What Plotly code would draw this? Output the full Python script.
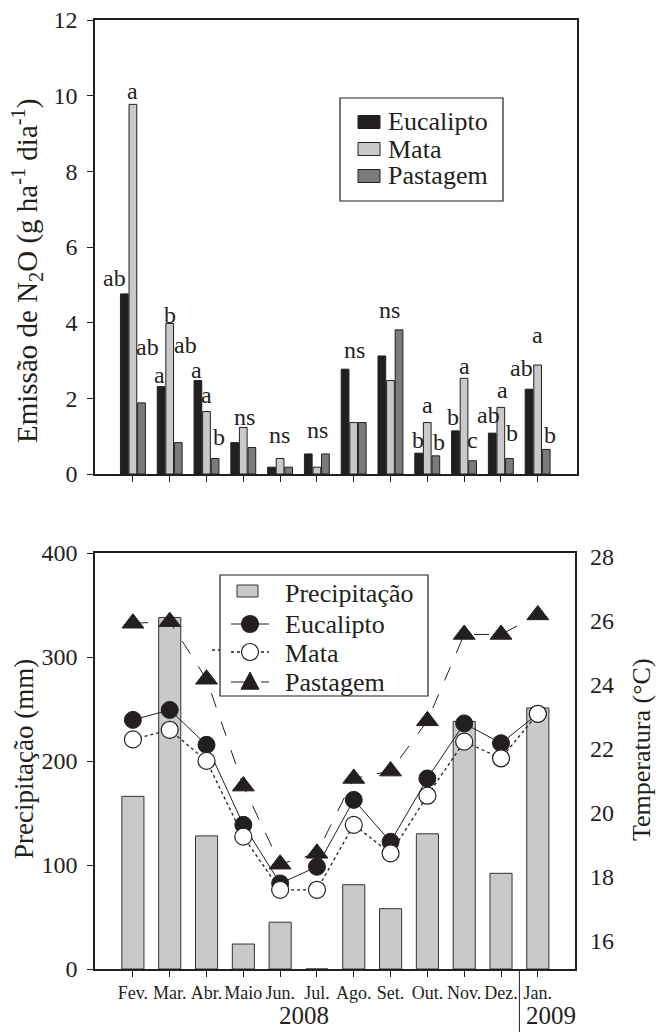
import plotly.graph_objects as go

# ---------------- data ----------------
months = ["Fev.", "Mar.", "Abr.", "Maio", "Jun.", "Jul.", "Ago.", "Set.", "Out.", "Nov.", "Dez.", "Jan."]

n2o_eucalipto = [4.76, 2.31, 2.47, 0.83, 0.18, 0.53, 2.77, 3.12, 0.55, 1.14, 1.08, 2.24]
n2o_mata = [9.77, 3.98, 1.65, 1.23, 0.41, 0.18, 1.36, 2.47, 1.36, 2.53, 1.76, 2.88]
n2o_pastagem = [1.88, 0.83, 0.41, 0.70, 0.18, 0.53, 1.36, 3.81, 0.48, 0.35, 0.41, 0.65]

precipitacao = [166, 338, 128, 24, 45, 0, 81, 58, 130, 238, 92, 251]
temp_eucalipto = [22.91, 23.22, 22.13, 19.63, 17.80, 18.32, 20.41, 19.10, 21.08, 22.80, 22.18, 23.10]
temp_mata = [22.30, 22.60, 21.63, 19.26, 17.60, 17.60, 19.63, 18.74, 20.54, 22.23, 21.71, 23.10]
temp_pastagem = [25.93, 25.98, 24.18, 20.84, 18.40, 18.74, 21.08, 21.31, 22.88, 25.58, 25.58, 26.19]

# significance letters (text) and their label positions (month index, emission units)
sig_letters = ["ab", "a", "ab", "a", "b", "ab", "a", "a", "b", "ns", "ns", "ns", "ns", "ns",
               "b", "a", "b", "b", "a", "c", "ab", "a", "b", "ab", "a", "b"]
sig_pos = [(-0.49, 5.18), (-0.01, 10.13), (0.41, 3.36), (0.71, 2.62), (1.01, 4.20), (1.44, 3.40),
           (1.74, 2.74), (2.01, 2.09), (2.34, 0.98), (3.02, 1.51), (3.99, 1.03), (5.03, 1.16),
           (6.03, 3.28), (6.98, 4.34), (7.74, 0.90), (8.02, 1.82), (8.32, 0.85), (8.70, 1.51),
           (9.00, 2.85), (9.24, 0.90), (9.67, 1.56), (10.05, 2.22), (10.30, 1.08), (10.57, 2.80),
           (11.00, 3.67), (11.33, 1.03)]

idx = list(range(len(months)))

FONT = "Liberation Serif"
INK = "#231f20"
W, H = 664, 1032

def px_x(p):
    return p / W

def px_y(p):
    return 1 - p / H

# styles
C_EUC, C_MATA, C_PAST, C_PREC = "#231f20", "#c9c9c9", "#7b7b7d", "#c8c9ca"

fig = go.Figure()

# ---------------- top: N2O emission bars ----------------
bar_line = dict(color=INK, width=1)
for name, vals, col in [("Eucalipto", n2o_eucalipto, C_EUC), ("Mata", n2o_mata, C_MATA),
                        ("Pastagem", n2o_pastagem, C_PAST)]:
    fig.add_trace(go.Bar(x=idx, y=vals, name=name, marker=dict(color=col, line=bar_line),
                         xaxis="x", yaxis="y", showlegend=False))

# ---------------- bottom: precipitation + temperature ----------------
fig.add_trace(go.Bar(x=idx, y=precipitacao, name="Precipitação", width=0.6, offset=-0.3,
                     marker=dict(color=C_PREC, line=dict(color="#333333", width=1)),
                     xaxis="x2", yaxis="y2", showlegend=False))
fig.add_trace(go.Scatter(x=idx, y=temp_eucalipto, name="Eucalipto", mode="lines+markers",
                         line=dict(color=INK, width=1),
                         marker=dict(symbol="circle", size=17, color=INK, line=dict(color=INK, width=1)),
                         xaxis="x2", yaxis="y3", showlegend=False))
fig.add_trace(go.Scatter(x=idx, y=temp_mata, name="Mata", mode="lines+markers",
                         line=dict(color=INK, width=1.3, dash="dot"),
                         marker=dict(symbol="circle", size=17, color="white", line=dict(color=INK, width=1.2)),
                         xaxis="x2", yaxis="y3", showlegend=False))
fig.add_trace(go.Scatter(x=idx, y=temp_pastagem, name="Pastagem", mode="lines+markers",
                         line=dict(color=INK, width=1, dash="longdash"),
                         marker=dict(symbol="triangle-up", size=19, color=INK, line=dict(color=INK, width=1)),
                         xaxis="x2", yaxis="y3", showlegend=False))

axis_common = dict(showline=True, linecolor=INK, linewidth=1.5, mirror=True, showgrid=False,
                   zeroline=False, tickcolor=INK, automargin=False,
                   tickfont=dict(family=FONT, size=24, color=INK))

annotations = []
for t, (ax, ay) in zip(sig_letters, sig_pos):
    annotations.append(dict(x=ax, y=ay, xref="x", yref="y", text=t, showarrow=False,
                            font=dict(family=FONT, size=24, color=INK), xanchor="center", yanchor="middle"))

def ptext(x, y, text, size=26, angle=0, xanchor="center"):
    return dict(x=px_x(x), y=px_y(y), xref="paper", yref="paper", text=text, textangle=angle,
                showarrow=False, font=dict(family=FONT, size=size, color=INK),
                xanchor=xanchor, yanchor="middle")

# axis titles
annotations.append(ptext(27, 271, "Emissão de N<sub>2</sub>O (g ha<sup>-1</sup> dia<sup>-1</sup>)", 29, -90))
annotations.append(ptext(24, 759, "Precipitação (mm)", 27, -90))
annotations.append(ptext(641, 750, "Temperatura (°C)", 26, -90))
# years
annotations.append(dict(x=4.65, y=px_y(1015), xref="x2", yref="paper", text="2008", showarrow=False,
                        font=dict(family=FONT, size=25, color=INK), xanchor="center", yanchor="middle"))
annotations.append(dict(x=11.36, y=px_y(1015), xref="x2", yref="paper", text="2009", showarrow=False,
                        font=dict(family=FONT, size=25, color=INK), xanchor="center", yanchor="middle"))

shapes = [dict(type="line", xref="x2", yref="paper", x0=10.5, x1=10.5, y0=px_y(969), y1=0,
               line=dict(color=INK, width=1))]

def prect(x0, y0, x1, y1, fill, lw=1, lc=INK):
    return dict(type="rect", xref="paper", yref="paper", x0=px_x(x0), x1=px_x(x1), y0=px_y(y1), y1=px_y(y0),
                fillcolor=fill, line=dict(color=lc, width=lw), layer="above")

def pline(x0, y0, x1, y1, dash="solid", lw=1):
    return dict(type="line", xref="paper", yref="paper", x0=px_x(x0), x1=px_x(x1), y0=px_y(y0), y1=px_y(y1),
                line=dict(color=INK, width=lw, dash=dash), layer="above")

def pcircle(cx, cy, r, fill):
    return dict(type="circle", xref="paper", yref="paper", x0=px_x(cx - r), x1=px_x(cx + r),
                y0=px_y(cy + r), y1=px_y(cy - r), fillcolor=fill, line=dict(color=INK, width=1.2), layer="above")

def ptri(cx, cy, s):
    pts = [(cx, cy - s * 0.55), (cx - s / 2, cy + s * 0.4), (cx + s / 2, cy + s * 0.4)]
    path = "M " + " L ".join(f"{px_x(a):.5f},{px_y(b):.5f}" for a, b in pts) + " Z"
    return dict(type="path", xref="paper", yref="paper", path=path, fillcolor=INK,
                line=dict(color=INK, width=1), layer="above")

# ---- top legend (manual) ----
shapes.append(prect(340, 98, 503, 201, "white", 1.2))
top_leg = [("Eucalipto", C_EUC, 122), ("Mata", C_MATA, 149), ("Pastagem", C_PAST, 176)]
for name, col, yc in top_leg:
    shapes.append(prect(358, yc - 6.5, 380, yc + 6.5, col, 1))
    annotations.append(ptext(386, yc, name, 26, 0, "left"))

# ---- bottom legend (manual) ----
shapes.append(pline(212, 650, 233, 650, "dot", 1.3))
shapes.append(prect(220, 575, 428, 696, "white", 1.2))
shapes.append(prect(237, 585, 258, 597, C_PREC, 1, "#333333"))
annotations.append(ptext(283, 593, "Precipitação", 26, 0, "left"))
shapes.append(pline(231, 624, 269, 624, "solid", 1))
shapes.append(pcircle(250, 624, 8.5, INK))
annotations.append(ptext(283, 624, "Eucalipto", 26, 0, "left"))
shapes.append(pline(231, 652, 269, 652, "dot", 1.3))
shapes.append(pcircle(250, 652, 8.5, "white"))
annotations.append(ptext(283, 653, "Mata", 26, 0, "left"))
shapes.append(pline(231, 682, 269, 682, "longdash", 1))
shapes.append(ptri(250, 682, 18))
annotations.append(ptext(283, 682, "Pastagem", 26, 0, "left"))

fig.update_layout(
    width=W, height=H,
    margin=dict(l=0, r=0, t=0, b=0, autoexpand=False),
    paper_bgcolor="white", plot_bgcolor="white",
    font=dict(family=FONT, color=INK),
    barmode="group", bargap=0.3, bargroupgap=0.1,
    showlegend=False,
    xaxis=dict(domain=[px_x(95), px_x(577)], range=[-1.03, 12.07], tickvals=idx,
               showticklabels=False, ticks="outside", ticklen=6, anchor="y", **axis_common),
    yaxis=dict(domain=[px_y(474), px_y(20)], range=[0, 12], tickvals=[0, 2, 4, 6, 8, 10, 12],
               ticks="outside", ticklen=6, anchor="x", ticklabelstandoff=5, **axis_common),
    xaxis2=dict(domain=[px_x(95), px_x(575)], range=[-1.03, 12.01], tickvals=idx, ticktext=months,
                ticks="outside", ticklen=6, anchor="y2", ticklabelstandoff=1,
                **{**axis_common, "tickfont": dict(family=FONT, size=18, color=INK)}),
    yaxis2=dict(domain=[px_y(969), px_y(553)], range=[0, 400], tickvals=[0, 100, 200, 300, 400],
                ticks="outside", ticklen=6, anchor="x2", ticklabelstandoff=5, **axis_common),
    yaxis3=dict(overlaying="y2", side="right", anchor="x2", range=[15.125, 28.125],
                tickvals=[16, 18, 20, 22, 24, 26, 28], showline=False, showgrid=False, zeroline=False,
                automargin=False, ticks="", ticklabelstandoff=14,
                tickfont=dict(family=FONT, size=24, color=INK)),
    annotations=annotations,
    shapes=shapes,
)

fig.write_html("out.html")
